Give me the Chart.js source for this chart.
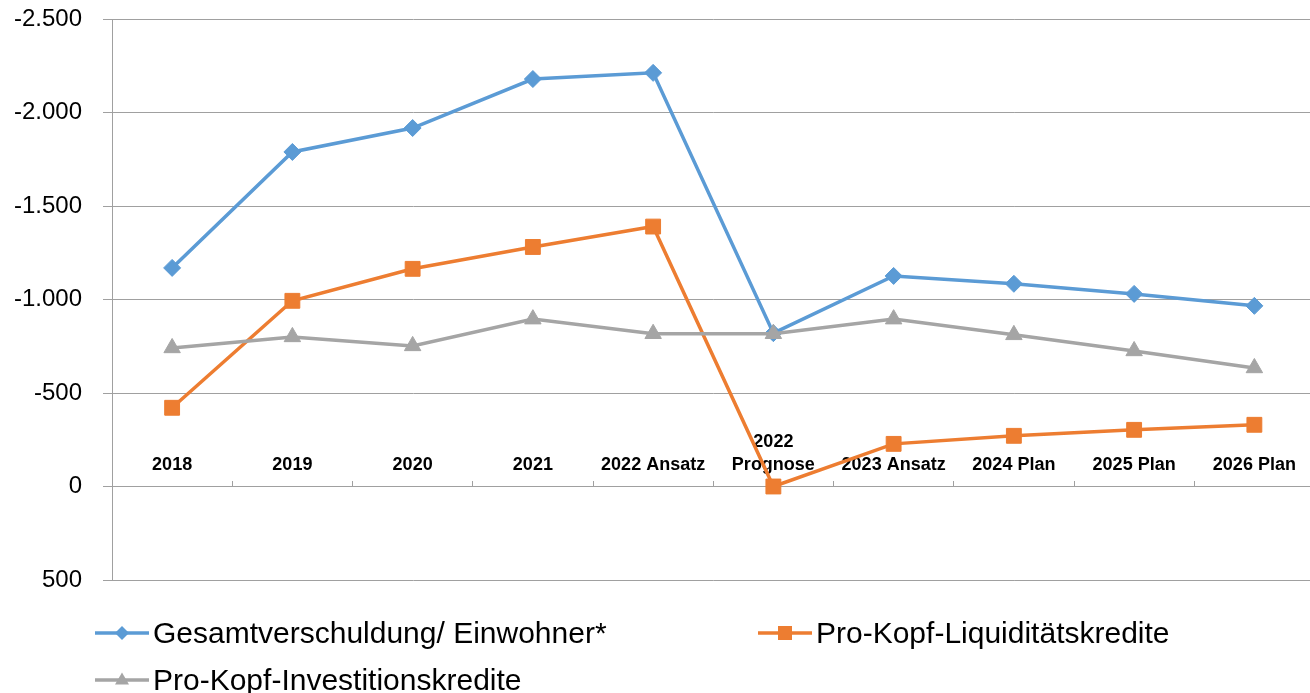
<!DOCTYPE html>
<html><head><meta charset="utf-8">
<script src="https://cdn.jsdelivr.net/npm/chart.js@4.4.0/dist/chart.umd.min.js"></script>
<style>
html,body{margin:0;padding:0;overflow:hidden;background:#fff;width:1310px;height:693px;}
#wrap{position:absolute;left:0;top:0;width:1326px;height:693px;}
.leg{position:absolute;display:flex;align-items:center;font-family:"Liberation Sans",Arial,sans-serif;font-size:30px;color:#000;white-space:nowrap;line-height:30px;height:30px;}
.leg svg{margin-right:4px;flex:none;}
</style></head><body>
<div id="wrap"><canvas id="c" width="1326" height="693"></canvas></div>
<div class="leg" style="left:95px;top:618px"><svg width="54" height="20"><line x1="0" y1="10" x2="54" y2="10" stroke="#5B9BD5" stroke-width="3.5"/><polygon points="27,3 34,10 27,17 20,10" fill="#5B9BD5"/></svg><span id="l0"></span></div>
<div class="leg" style="left:758px;top:618px"><svg width="54" height="20"><line x1="0" y1="10" x2="54" y2="10" stroke="#ED7D31" stroke-width="3.5"/><rect x="20" y="3" width="14" height="14" fill="#ED7D31"/></svg><span id="l1"></span></div>
<div class="leg" style="left:95px;top:665px"><svg width="54" height="20"><line x1="0" y1="10" x2="54" y2="10" stroke="#A5A5A5" stroke-width="3.5"/><polygon points="27,2.5 34,14.5 20,14.5" fill="#A5A5A5"/></svg><span id="l2"></span></div>
<script>
const categories = ['2018','2019','2020','2021','2022 Ansatz',['2022','Prognose'],'2023 Ansatz','2024 Plan','2025 Plan','2026 Plan'];
const seriesNames = ['Gesamtverschuldung/ Einwohner*','Pro-Kopf-Liquiditätskredite','Pro-Kopf-Investitionskredite'];
const gesamtverschuldung = [-1169,-1789,-1917,-2179,-2212,-820,-1126,-1084,-1030,-966];
const liquiditaetskredite = [-421,-993,-1164,-1281,-1390,0,-228,-271,-303,-330];
const investitionskredite = [-741,-800,-752,-895,-817,-817,-895,-811,-725,-634];
const yTicks = [-2500,-2000,-1500,-1000,-500,0,500];

seriesNames.forEach((n,i)=>{document.getElementById('l'+i).textContent=n;});

function fmt(v){
  const s = Math.abs(v).toString().replace(/\B(?=(\d{3})+(?!\d))/g,'.');
  return (v<0?'-':'')+s;
}
const grid = '#a0a0a0';
const colors = ['#5B9BD5','#ED7D31','#A5A5A5'];
const styles = [
  {pointStyle:'rectRot', pointRadius:8.5},
  {pointStyle:'rect', pointRadius:10.5},
  {pointStyle:'triangle', pointRadius:9.5}
];
const values = [gesamtverschuldung, liquiditaetskredite, investitionskredite];
const orders = [2,1,0];

new Chart(document.getElementById('c'), {
  type:'line',
  data:{
    labels: categories,
    datasets: values.map((d,i)=>({
      label: seriesNames[i], data: d,
      borderColor: colors[i], backgroundColor: colors[i],
      pointBackgroundColor: colors[i], pointBorderColor: colors[i],
      borderWidth: 3.5, pointBorderWidth: 1, tension: 0,
      pointStyle: styles[i].pointStyle, pointRadius: styles[i].pointRadius,
      pointHoverRadius: styles[i].pointRadius,
      order: orders[i], fill:false
    }))
  },
  options:{
    responsive:false, animation:false, devicePixelRatio:1,
    layout:{padding:{top:19,bottom:113,left:0,right:0}},
    plugins:{legend:{display:false}, tooltip:{enabled:false}},
    scales:{
      y:{
        type:'linear', reverse:true, min:yTicks[0], max:yTicks[yTicks.length-1],
        afterBuildTicks: s => { s.ticks = yTicks.map(v=>({value:v})); },
        afterFit: s => { s.width = 112; s.paddingTop = 0; s.paddingBottom = 0; },
        ticks:{padding:21, color:'#000', font:{family:'Liberation Sans', size:24}, callback: v => fmt(v)},
        grid:{color:grid, lineWidth:1, tickLength:9, drawTicks:true},
        border:{color:grid, width:1}
      },
      x:{
        type:'category', offset:true, position:{y:0},
        grid:{offset:true, drawOnChartArea:false, drawTicks:true, tickLength:-6, color:grid, lineWidth:1},
        border:{display:true, color:grid, width:1},
        ticks:{padding:-38, crossAlign:'far', maxRotation:0, minRotation:0, autoSkip:false, color:'#000',
          font:{family:'Liberation Sans', size:18, weight:'bold', lineHeight:1.25}}
      }
    }
  }
});
</script>
</body></html>
